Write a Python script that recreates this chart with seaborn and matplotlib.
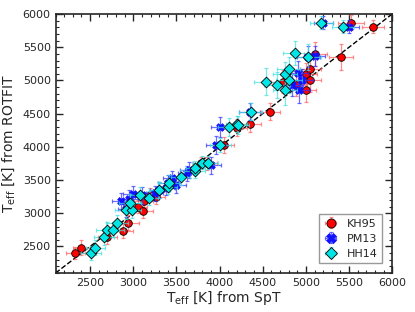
import numpy as np
import pandas as pd
import matplotlib
matplotlib.use("Agg")
import matplotlib.pyplot as plt
import seaborn as sns
from matplotlib.ticker import MultipleLocator
from matplotlib.legend_handler import HandlerTuple

# KH95 (red circles)
kh_x = [2330, 2400, 2700, 2880, 2940, 3050, 3110, 3120, 3190, 3260, 3790, 3860, 4050,
        4200, 4350, 4590, 4730, 4890, 5000, 5000, 5050, 5050, 5110, 5410, 5520, 5780]
kh_y = [2400, 2480, 2640, 2740, 2860, 3100, 3040, 3180, 3280, 3250, 3760, 3750, 4030,
        4290, 4340, 4530, 4980, 4930, 4850, 5100, 5000, 5170, 5400, 5350, 5870, 5810]
kh_xerr = [110, 100, 110, 120, 130, 110, 120, 110, 120, 110, 100, 110, 120,
           120, 130, 115, 130, 120, 120, 130, 130, 120, 130, 140, 150, 130]
kh_yerr = [90, 110, 100, 110, 110, 100, 110, 110, 100, 110, 90, 100, 120,
           130, 120, 130, 170, 160, 170, 160, 170, 160, 180, 200, 110, 100]

# PM13 (blue crosses)
pm_x = [2860, 2920, 2950, 3000, 3100, 3250, 3300, 3380, 3400, 3450, 3500, 3620, 3650,
        3900, 3960, 4010, 4350, 4840, 4910, 4920, 4960, 5030, 5100, 5200, 5500]
pm_y = [3180, 3060, 3220, 3290, 3270, 3300, 3350, 3380, 3450, 3530, 3430, 3600, 3650,
        3720, 4030, 4300, 4530, 4930, 5110, 4860, 5000, 5360, 5370, 5870, 5810]
pm_xerr = [110, 100, 110, 120, 110, 100, 110, 100, 110, 100, 110, 100, 110,
           120, 120, 110, 120, 130, 120, 130, 120, 130, 120, 110, 120]
pm_yerr = [130, 120, 130, 120, 130, 110, 120, 110, 120, 110, 120, 110, 120,
           130, 140, 150, 130, 170, 180, 200, 170, 160, 150, 100, 100]

# HH14 (cyan diamonds)
hh_x = [2510, 2560, 2660, 2700, 2770, 2810, 2910, 2980, 2960, 3080, 3180, 3300, 3400,
        3410, 3550, 3710, 3720, 3800, 3870, 4010, 4110, 4200, 4210, 4360, 4540, 4670,
        4760, 4800, 4760, 4800, 4870, 5030, 5180, 5430]
hh_y = [2400, 2480, 2640, 2750, 2750, 2860, 3050, 3050, 3160, 3280, 3230, 3350, 3400,
        3460, 3540, 3640, 3680, 3760, 3760, 4030, 4300, 4340, 4330, 4530, 4980, 4930,
        4850, 5010, 5100, 5170, 5410, 5350, 5870, 5810]
hh_xerr = [120, 110, 120, 130, 120, 130, 120, 110, 130, 120, 110, 120, 110,
           120, 110, 120, 110, 120, 110, 120, 130, 120, 130, 130, 140, 150,
           140, 150, 140, 130, 140, 150, 130, 130]
hh_yerr = [110, 110, 120, 120, 110, 120, 130, 120, 130, 120, 110, 120, 110,
           120, 110, 110, 110, 100, 100, 110, 130, 120, 130, 130, 200, 200,
           220, 200, 180, 180, 180, 200, 100, 100]

sns.set_style("ticks")
plt.rcParams['font.family'] = ['DejaVu Sans']

fig = plt.figure(figsize=(4.15, 3.12), dpi=100)
ax = fig.add_axes([0.134, 0.125, 0.811, 0.830])

lims = [2100, 6000]
ax.plot(lims, lims, ls='--', color='black', lw=1.0, zorder=1)

series = [
    ("KH95", kh_x, kh_y, kh_xerr, kh_yerr, 'o', '#ff0000', 'black', '#ff6060', 5.5, 30),
    ("PM13", pm_x, pm_y, pm_xerr, pm_yerr, 'X', '#1010ff', '#1010ff', '#3030ff', 6.0, 30),
    ("HH14", hh_x, hh_y, hh_xerr, hh_yerr, 'D', '#00e5e5', 'black', '#40e0e0', 5.5, 30),
]

handles = []
for i, (name, x, y, xe, ye, mk, fc, ec, errc, ms, sz) in enumerate(series):
    df = pd.DataFrame({"x": x, "y": y})
    eb = ax.errorbar(x, y, xerr=xe, yerr=ye, fmt='none', ecolor=errc, elinewidth=0.9,
                     capsize=1.5, capthick=0.9, alpha=0.7, zorder=2 + i)
    sns.scatterplot(data=df, x="x", y="y", marker=mk, s=sz, color=fc,
                    edgecolor=ec, linewidth=0.6, ax=ax, zorder=2.5 + i)
    mh = plt.Line2D([], [], ls='none', marker=mk, markersize=ms + 1, markerfacecolor=fc,
                    markeredgecolor=ec, markeredgewidth=0.6)
    handles.append(((eb, mh), name))

ax.set_xlim(lims)
ax.set_ylim(lims)
ax.xaxis.set_major_locator(MultipleLocator(500))
ax.yaxis.set_major_locator(MultipleLocator(500))
ax.xaxis.set_minor_locator(MultipleLocator(100))
ax.yaxis.set_minor_locator(MultipleLocator(100))
ax.tick_params(which='both', direction='in', top=True, right=True, labelsize=8)
ax.tick_params(which='major', length=5, width=1)
ax.tick_params(which='minor', length=2.5, width=0.8)
for s in ax.spines.values():
    s.set_linewidth(1.2)

ax.set_xlabel(r"T$_{\rm eff}$ [K] from SpT", fontsize=10, labelpad=1)
ax.set_ylabel(r"T$_{\rm eff}$ [K] from ROTFIT", fontsize=10, labelpad=4)

leg = ax.legend([h for h, _ in handles], [n for _, n in handles],
                handler_map={tuple: HandlerTuple(ndivide=1)}, loc='lower right',
                fontsize=8, frameon=True, fancybox=False, edgecolor='gray',
                handlelength=1.3, borderaxespad=0.9, labelspacing=0.45)

fig.savefig("out.png", dpi=100)
